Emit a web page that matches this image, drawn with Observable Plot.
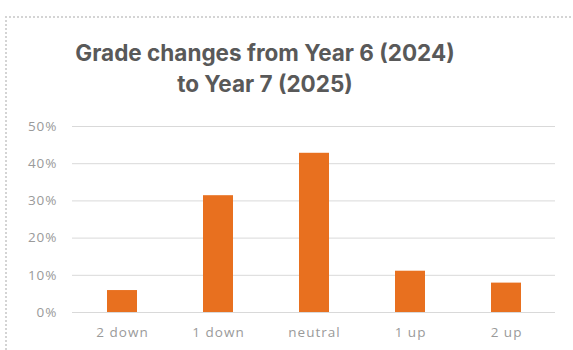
<!DOCTYPE html>
<html>
<head>
<meta charset="utf-8">
<script src="https://cdn.jsdelivr.net/npm/d3@7"></script>
<script src="https://cdn.jsdelivr.net/npm/@observablehq/plot@0.6"></script>
<style>
  html, body { margin: 0; padding: 0; background: #fff; }
  #wrap { position: relative; width: 573px; height: 350px; overflow: hidden; background: #fff; }
  #frame { position: absolute; left: 5px; top: 16px; width: 600px; height: 400px;
           border-top: 2px dotted #d4d4d4; border-left: 2px dotted #d4d4d4; }
  #title { position: absolute; left: 0; top: 37px; width: 530px; text-align: center;
           font-family: Inter, "Open Sans", sans-serif; font-weight: 700; font-size: 22.5px;
           line-height: 31px; color: #595959; }
  #chart { position: absolute; left: 0; top: 105px; }
</style>
</head>
<body>
<div id="wrap">
  <div id="frame"></div>
  <div id="title">Grade changes from Year 6 (2024)<br>to Year 7 (2025)</div>
  <div id="chart"></div>
</div>
<script>
const categories = ["2 down", "1 down", "neutral", "1 up", "2 up"];
const values = [0.059, 0.314, 0.428, 0.111, 0.079];
const yTicks = [0, 0.1, 0.2, 0.3, 0.4, 0.5];

const data = categories.map((c, i) => ({category: c, value: values[i]}));

const chart = Plot.plot({
  width: 573,
  height: 245,
  marginLeft: 72,
  marginRight: 18,
  marginTop: 21,
  marginBottom: 38,
  style: {fontFamily: "'Open Sans', sans-serif", fontSize: "13.5px", color: "#9a9a9a", background: "transparent", letterSpacing: "1px"},
  x: {domain: categories, paddingInner: 0.69, paddingOuter: 0.355, label: null},
  y: {domain: [0, 0.5], label: null},
  marks: [
    Plot.gridY(yTicks, {stroke: "#d9d9d9", strokeOpacity: 1, strokeWidth: 1}),
    Plot.barY(data, {x: "category", y: "value", fill: "#E8701F"}),
    Plot.axisY(yTicks, {tickSize: 0, tickPadding: 15, tickFormat: d => Math.round(d * 100) + "%", label: null}),
    Plot.axisX({tickSize: 0, tickPadding: 15, label: null})
  ]
});
document.getElementById("chart").appendChild(chart);
</script>
</body>
</html>
